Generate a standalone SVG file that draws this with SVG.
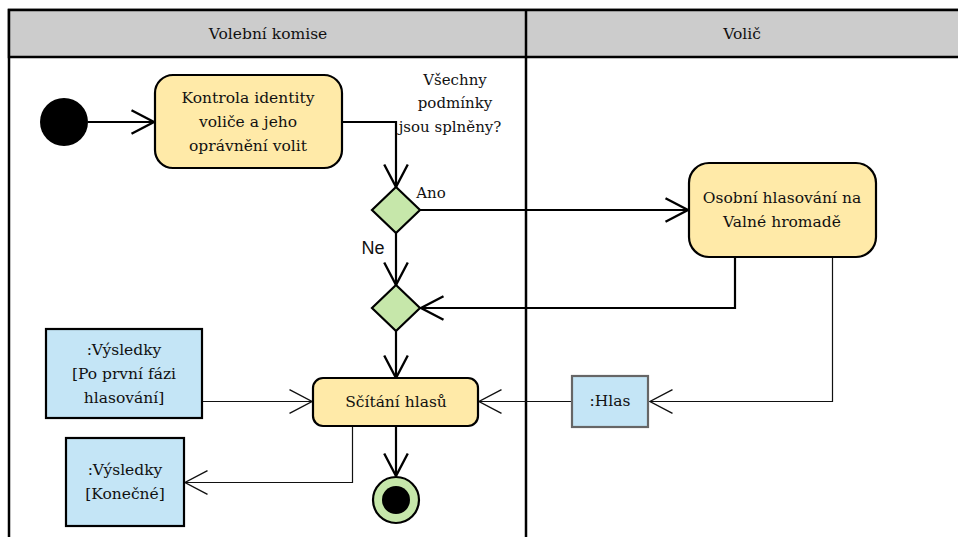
<svg xmlns="http://www.w3.org/2000/svg" width="958" height="537" viewBox="0 0 958 537">
  <defs>
    <marker id="open" markerUnits="userSpaceOnUse" markerWidth="30" markerHeight="30" viewBox="-24 -14 28 28" refX="0" refY="0" orient="auto" overflow="visible">
      <path d="M-21,-11 L0,0 L-21,11" fill="none" stroke="#000" stroke-width="2.2"/>
    </marker>
    <marker id="openThin" markerUnits="userSpaceOnUse" markerWidth="30" markerHeight="30" viewBox="-24 -14 28 28" refX="0" refY="0" orient="auto" overflow="visible">
      <path d="M-21,-11 L0,0 L-21,11" fill="none" stroke="#111" stroke-width="1.3"/>
    </marker>
  </defs>
  <style>
    text { font-family: "DejaVu Serif", "Liberation Serif", serif; font-size: 15.5px; fill: #111; text-anchor: middle; }
    .small { font-size: 15px; }
    .lane { fill: #fff; stroke: #000; stroke-width: 2.5; }
    .head { fill: #cccccc; stroke: #000; stroke-width: 2.5; }
    .action { fill: #ffeaa8; stroke: #000; stroke-width: 2.2; }
    .decision { fill: #c6e7aa; stroke: #000; stroke-width: 2.2; }
    .object { fill: #c4e5f6; stroke: #000; stroke-width: 2.2; }
    .objGray { fill: #c4e5f6; stroke: #666; stroke-width: 2.2; }
    .flow { fill: none; stroke: #000; stroke-width: 2.2; marker-end: url(#open); }
    .data { fill: none; stroke: #111; stroke-width: 1.2; marker-end: url(#openThin); }
    .sans { font-family: "Liberation Sans", Arial, sans-serif; font-size: 18px; }
  </style>

  <!-- swimlanes -->
  <g id="lanes">
    <rect class="lane" x="9" y="10" width="1000" height="600"/>
    <rect class="head" x="9" y="10" width="1000" height="47"/>
    <line x1="526" y1="10" x2="526" y2="540" stroke="#000" stroke-width="2.5"/>
    <text x="268" y="39">Volební komise</text>
    <text x="742" y="39">Volič</text>
  </g>

  <!-- connectors -->
  <g id="connectors">
    <line class="flow" x1="88" y1="122" x2="154" y2="122"/>
    <polyline class="flow" points="342,122 396,122 396,187"/>
    <line class="flow" x1="420" y1="210" x2="688" y2="210"/>
    <line class="flow" x1="396" y1="233" x2="396" y2="285"/>
    <polyline class="flow" points="735,257 735,308 421,308"/>
    <line class="flow" x1="396" y1="331" x2="396" y2="378"/>
    <line class="flow" x1="396" y1="426" x2="396" y2="476"/>
    <polyline class="data" points="832.5,257 832.5,401.5 650,401.5"/>
    <line class="data" x1="572" y1="401.5" x2="479" y2="401.5"/>
    <line class="data" x1="202" y1="401.5" x2="312" y2="401.5"/>
    <polyline class="data" points="352.5,426 352.5,482.5 185,482.5"/>
    <text class="small" x="455" y="85">Všechny</text>
    <text class="small" x="455" y="108">podmínky</text>
    <text class="small" x="450" y="132">jsou splněny?</text>
    <text class="small" x="431" y="198">Ano</text>
    <text class="sans" x="373" y="254">Ne</text>
  </g>

  <g id="start">
    <circle cx="64" cy="122" r="24" fill="#000"/>
  </g>

  <g id="kontrola">
    <rect class="action" x="155" y="75" width="187" height="93" rx="18"/>
    <text x="248" y="103">Kontrola identity</text>
    <text x="248" y="127">voliče a jeho</text>
    <text x="248" y="151">oprávnění volit</text>
  </g>

  <g id="decision">
    <polygon class="decision" points="396,187 420,210 396,233 372,210"/>
  </g>

  <g id="merge">
    <polygon class="decision" points="396,285 420,308 396,331 372,308"/>
  </g>

  <g id="osobni">
    <rect class="action" x="689" y="163" width="187" height="94" rx="20"/>
    <text x="782" y="203">Osobní hlasování na</text>
    <text x="782" y="227">Valné hromadě</text>
  </g>

  <g id="scitani">
    <rect class="action" x="313" y="378" width="165" height="48" rx="10"/>
    <text x="396" y="407">Sčítání hlasů</text>
  </g>

  <g id="hlas">
    <rect class="objGray" x="572" y="376" width="76" height="51"/>
    <text x="610" y="406">:Hlas</text>
  </g>

  <g id="vysledkyPrvni">
    <rect class="object" x="46" y="329" width="156" height="89"/>
    <text x="124" y="355">:Výsledky</text>
    <text x="124" y="379">[Po první fázi</text>
    <text x="124" y="403">hlasování]</text>
  </g>

  <g id="vysledkyKonecne">
    <rect class="object" x="66" y="438" width="118" height="88"/>
    <text x="125" y="475">:Výsledky</text>
    <text x="125" y="499">[Konečné]</text>
  </g>

  <g id="end">
    <circle cx="396" cy="500" r="23" fill="#c6e7aa" stroke="#000" stroke-width="2.2"/>
    <circle cx="396" cy="500" r="14" fill="#000"/>
  </g>
</svg>
